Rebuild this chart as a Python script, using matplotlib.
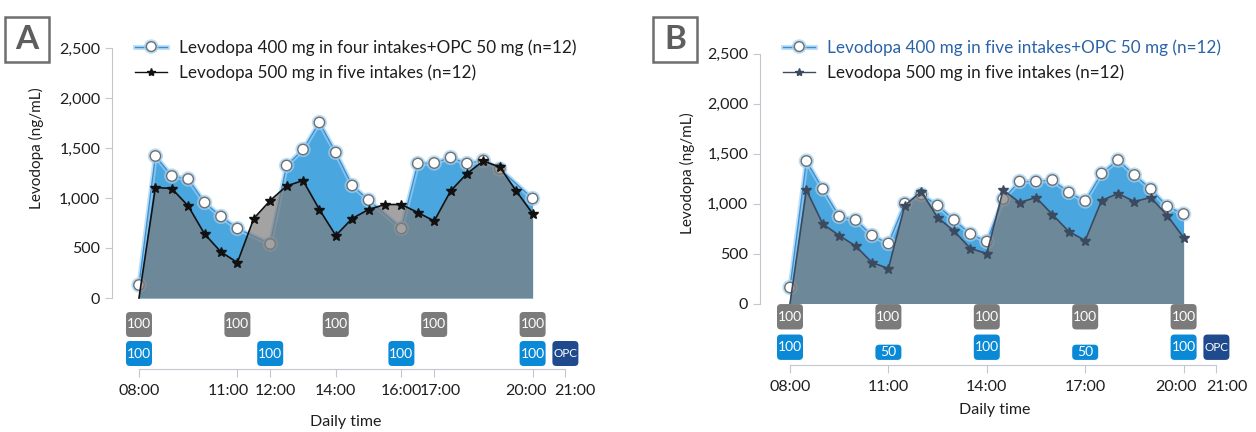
import matplotlib
matplotlib.use("Agg")
import matplotlib.pyplot as plt
import matplotlib.patheffects as pe
import matplotlib.transforms as mtransforms
from matplotlib.patches import FancyBboxPatch, Rectangle
from matplotlib.lines import Line2D

plt.rcParams["font.family"] = ["Lato", "DejaVu Sans"]

# ---- data ----
# panel A
a_opc_time = [8, 8.5, 9, 9.5, 10, 10.5, 11, 12, 12.5, 13, 13.5, 14, 14.5, 15,
              16, 16.5, 17, 17.5, 18, 18.5, 19, 20]
a_opc_conc = [130, 1420, 1220, 1190, 955, 815, 695, 540, 1325, 1485, 1755, 1455, 1125, 980,
              695, 1345, 1350, 1405, 1345, 1375, 1290, 995]
a_ref_time = [8, 8.5, 9, 9.5, 10, 10.5, 11, 11.5, 12, 12.5, 13, 13.5, 14, 14.5, 15, 15.5,
              16, 16.5, 17, 17.5, 18, 18.5, 19, 19.5, 20]
a_ref_conc = [0, 1105, 1095, 920, 640, 460, 355, 795, 975, 1120, 1175, 885, 625, 795, 885, 935,
              935, 855, 770, 1070, 1245, 1370, 1310, 1070, 845]

# panel B
b_opc_time = [8, 8.5, 9, 9.5, 10, 10.5, 11, 11.5, 12, 12.5, 13, 13.5, 14, 14.5, 15, 15.5,
              16, 16.5, 17, 17.5, 18, 18.5, 19, 19.5, 20]
b_opc_conc = [160, 1425, 1145, 870, 835, 680, 600, 1000, 1090, 980, 835, 695, 620, 1045, 1220, 1220,
              1235, 1110, 1025, 1300, 1435, 1285, 1145, 970, 895]
b_ref_time = b_opc_time
b_ref_conc = [0, 1135, 795, 680, 575, 410, 350, 980, 1120, 860, 725, 550, 500, 1135, 1010, 1060,
              890, 720, 630, 1030, 1100, 1020, 1060, 880, 660]

# dosing schedule
ref_dose_time = [8, 11, 14, 17, 20]
ref_dose_label = ["100", "100", "100", "100", "100"]
a_opc_dose_time = [8, 12, 16, 20]
a_opc_dose_label = ["100", "100", "100", "100"]
b_opc_dose_time = [8, 11, 14, 17, 20]
b_opc_dose_label = ["100", "50", "100", "50", "100"]
opc_time = 21

a_ticks = [8, 11, 12, 14, 16, 17, 20, 21]
b_ticks = [8, 11, 14, 17, 20, 21]
# small sideways nudges (px) the original applies to crowded tick labels
a_tick_nudge = [0, -9, 5, 0, 0, 6, -7, 9]
b_tick_nudge = [0, 0, 0, 0, -8, 10]

a_labels = ["Levodopa 400 mg in four intakes+OPC 50 mg (n=12)",
            "Levodopa 500 mg in five intakes (n=12)"]
b_labels = ["Levodopa 400 mg in five intakes+OPC 50 mg (n=12)",
            "Levodopa 500 mg in five intakes (n=12)"]

# ---- styling ----
W, H = 1256, 432
BLUE_FILL = "#4aa6de"
BLUE_LINE = "#3b8fd2"
GLOW = "#9fd0f3"
GREY_FILL = "#7c7c7c"
BOX_GREY = "#7b7b7b"
BOX_BLUE = "#0a8ad6"
BOX_NAVY = "#1f4b8e"
AXIS_GREY = "#c3c8d0"
TXT = "#1e1e1e"
PX_PER_H = 32.8

fig = plt.figure(figsize=(W / 100, H / 100), dpi=100)


def rect(x0, y0, x1, y1):
    return [x0 / W, 1 - y1 / H, (x1 - x0) / W, (y1 - y0) / H]


glow = [pe.Stroke(linewidth=3.5, foreground=GLOW, alpha=0.7), pe.Normal()]


def draw_main(ax, ot, oc, rt, rc, ref_color, ylab_x, ylab_y):
    ax.fill_between(ot, oc, color=BLUE_FILL, lw=0, zorder=1)
    ax.plot(ot, oc, color=BLUE_LINE, lw=1, marker="o", ms=7.5, mfc="white",
            mec="#707070", mew=1, zorder=2, clip_on=False, path_effects=glow)
    ax.fill_between(rt, rc, color=GREY_FILL, alpha=0.7, lw=0, zorder=3)
    ax.plot(rt, rc, color=ref_color, lw=1.2, marker="*", ms=7.5, mfc=ref_color,
            mec=ref_color, zorder=4, clip_on=False, markevery=list(range(1, len(rt))))
    ax.set_ylim(0, 2500)
    ax.set_yticks([0, 500, 1000, 1500, 2000, 2500])
    ax.set_yticklabels(["{:,}".format(v) for v in ax.get_yticks().astype(int)])
    for s in ["top", "right", "bottom"]:
        ax.spines[s].set_visible(False)
    ax.spines["left"].set_color(AXIS_GREY)
    ax.tick_params(axis="y", colors=AXIS_GREY, labelcolor=TXT, labelsize=11.5, length=5)
    ax.set_xticks([])
    ax.set_ylabel("Levodopa (ng/mL)", fontsize=11, color=TXT)
    ax.yaxis.set_label_coords(ylab_x, ylab_y)


def box(ax, t, y0, h, label, color, fs=10):
    w = 26 / PX_PER_H
    ax.add_patch(FancyBboxPatch((t - w / 2, y0), w, h,
                                boxstyle="round,pad=0,rounding_size=0.12",
                                mutation_aspect=PX_PER_H, fc=color, ec="none",
                                zorder=2, clip_on=False))
    ax.text(t, y0 + h / 2, label, ha="center", va="center", color="white",
            fontsize=fs, zorder=3)


def draw_low(ax, ticks, nudge, grey_y, blue_y, ref_t, ref_l, opc_t, opc_l):
    ax.set_ylim(0, 64)
    for t, l in zip(ref_t, ref_l):
        box(ax, t, grey_y, 25, l, BOX_GREY)
    for t, l in zip(opc_t, opc_l):
        hh = 25 if l == "100" else 15
        box(ax, t, blue_y, hh, l, BOX_BLUE)
    box(ax, opc_time, blue_y, 25, "OPC", BOX_NAVY, fs=8.5)
    for s in ["top", "right", "left"]:
        ax.spines[s].set_visible(False)
    ax.spines["bottom"].set_color(AXIS_GREY)
    ax.spines["bottom"].set_bounds(8, 21)
    ax.set_yticks([])
    ax.set_xticks(ticks)
    ax.set_xticklabels(["{:02d}:00".format(t) for t in ticks])
    ax.tick_params(axis="x", colors=AXIS_GREY, labelcolor=TXT, labelsize=11.5,
                   length=6, pad=5)
    for lab, dx in zip(ax.get_xticklabels(), nudge):
        lab.set_transform(lab.get_transform() +
                          mtransforms.ScaledTranslation(dx / 100, 0, fig.dpi_scale_trans))
    ax.patch.set_alpha(0)


def legend(ax, x, y, labels, ref_color, first_color):
    h1 = Line2D([], [], color=BLUE_LINE, lw=1, marker="o", ms=7, mfc="white",
                mec="#707070", path_effects=glow)
    h2 = Line2D([], [], color=ref_color, lw=1, marker="*", ms=6, mfc=ref_color, mec=ref_color)
    leg = ax.legend([h1, h2], labels, loc="upper left",
                    bbox_to_anchor=(x / W, 1 - y / H), bbox_transform=fig.transFigure,
                    frameon=False, borderpad=0, borderaxespad=0, handlelength=1.9,
                    handletextpad=0.7, labelspacing=0.5, fontsize=12.3)
    leg.get_texts()[0].set_color(first_color)
    leg.get_texts()[1].set_color(TXT)


def panel_letter(letter, x0, y0, x1, y1):
    fig.patches.append(Rectangle((x0 / W, 1 - y1 / H), (x1 - x0) / W, (y1 - y0) / H,
                                 transform=fig.transFigure, fill=False,
                                 ec="#6e6e6e", lw=1.8))
    fig.text((x0 + x1) / 2 / W, 1 - (y0 + y1) / 2 / H, letter, ha="center", va="center",
             fontsize=24, fontweight="bold", color="#5e5e5e")


# ---- panel A ----
a_xlim = (8 - (139 - 112) / PX_PER_H, 8 + (580 - 139) / PX_PER_H)
axA = fig.add_axes(rect(112, 48, 580, 298))
draw_main(axA, a_opc_time, a_opc_conc, a_ref_time, a_ref_conc, "#111111", -68 / 468, 0.60)
axA.set_xlim(a_xlim)
lowA = fig.add_axes(rect(112, 305, 580, 369))
draw_low(lowA, a_ticks, a_tick_nudge, 32, 3, ref_dose_time, ref_dose_label,
         a_opc_dose_time, a_opc_dose_label)
lowA.set_xlim(a_xlim)
lowA.set_xlabel("Daily time", fontsize=11.5, color=TXT, labelpad=12)
legend(axA, 135, 39, a_labels, "#111111", TXT)
panel_letter("A", 5, 17, 49, 62)

# ---- panel B ----
b_xlim = (8 - (790 - 760) / PX_PER_H, 8 + (1230 - 790) / PX_PER_H)
axB = fig.add_axes(rect(760, 53.5, 1230, 303.5))
draw_main(axB, b_opc_time, b_opc_conc, b_ref_time, b_ref_conc, "#3b4a5e", -65 / 470, 0.52)
axB.set_xlim(b_xlim)
lowB = fig.add_axes(rect(760, 300, 1230, 365))
draw_low(lowB, b_ticks, b_tick_nudge, 35, 5, ref_dose_time, ref_dose_label,
         b_opc_dose_time, b_opc_dose_label)
lowB.set_xlim(b_xlim)
lowB.set_xlabel("Daily time", fontsize=11.5, color=TXT, labelpad=6)
legend(axB, 783, 39, b_labels, "#3b4a5e", "#2a63a8")
panel_letter("B", 653, 17, 697, 62)

fig.savefig("out.png", dpi=100)
